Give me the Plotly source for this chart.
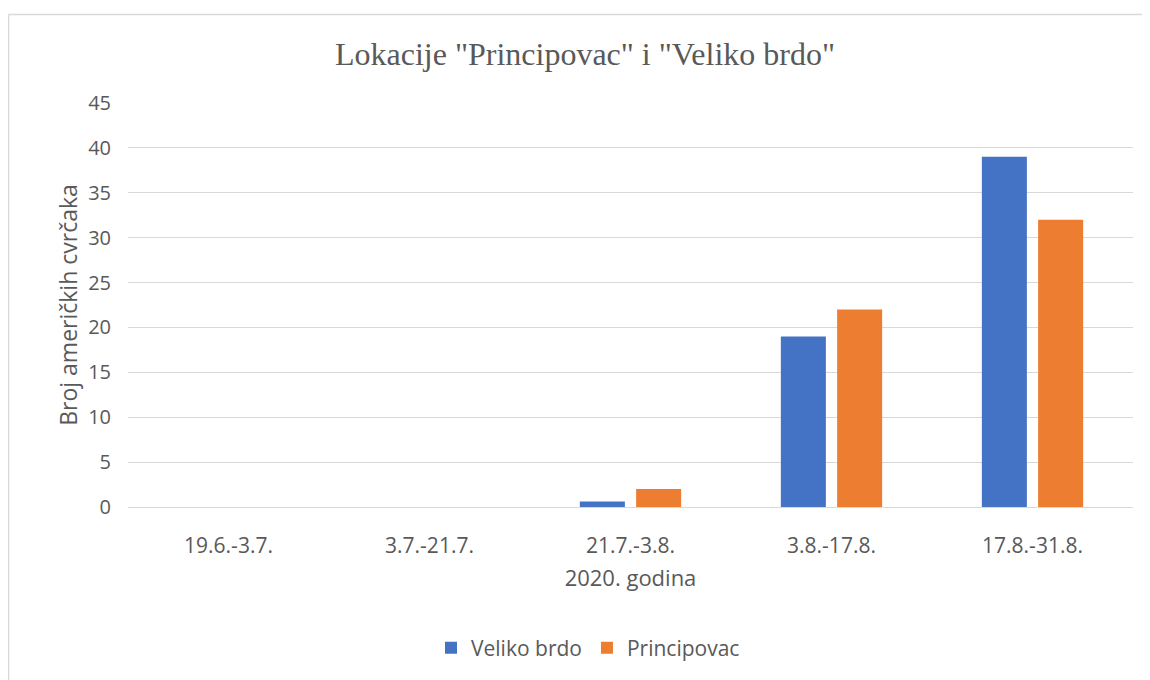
import plotly.graph_objects as go

categories = ["19.6.-3.7.", "3.7.-21.7.", "21.7.-3.8.", "3.8.-17.8.", "17.8.-31.8."]
veliko_brdo = [0, 0, 0.6, 19, 39]
principovac = [0, 0, 2, 22, 32]
y_ticks = [0, 5, 10, 15, 20, 25, 30, 35, 40, 45]

# page body has an 8px margin; figure sized to fit the 1150x680 window
OFF = 8
W, H = 1150 - OFF, 680 - OFF
L, T = 128 - OFF, 103 - OFF
PR, PB = 1133 - OFF, 507 - OFF
R, B = W - PR, H - PB
pw, ph = PR - L, PB - T

fig = go.Figure()
fig.add_trace(go.Bar(name="Veliko brdo", x=categories, y=veliko_brdo,
                     marker=dict(color="#4472C4", line=dict(width=0))))
fig.add_trace(go.Bar(name="Principovac", x=categories, y=principovac,
                     marker=dict(color="#ED7D31", line=dict(width=0))))

font_sans = "Open Sans, Lato, sans-serif"
gray = "#595959"


def px_to_paper_x(px):
    return (px - OFF - L) / pw


def px_to_paper_y(py):
    return (PB - (py - OFF)) / ph


fig.update_layout(
    width=W, height=H,
    margin=dict(l=L, r=R, t=T, b=B, pad=0),
    paper_bgcolor="white", plot_bgcolor="white",
    barmode="group", bargap=0.44, bargroupgap=0.2,
    title=dict(text='Lokacije "Principovac" i "Veliko brdo"',
               font=dict(family="Liberation Serif, Times New Roman, serif", size=32, color=gray),
               x=(585 - OFF) / W, xanchor="center", y=1 - (54 - OFF) / H, yanchor="middle"),
    font=dict(family=font_sans, color=gray, size=20),
    legend=dict(orientation="h", x=px_to_paper_x(588), xanchor="center",
                y=px_to_paper_y(648), yanchor="middle",
                font=dict(size=21, color=gray), traceorder="normal"),
    showlegend=True,
)
fig.update_yaxes(range=[0, 45], tickvals=y_ticks, showgrid=True, gridcolor="#D9D9D9", gridwidth=1,
                 zeroline=False, showline=False, ticks="", ticklabelstandoff=16,
                 tickfont=dict(size=20, color=gray),
                 title=dict(text="Broj američkih cvrčaka", font=dict(size=23, color=gray), standoff=4))
fig.update_xaxes(showline=True, linecolor="#D9D9D9", linewidth=1, ticks="", ticklabelstandoff=20,
                 tickfont=dict(size=21, color=gray),
                 title=dict(text="2020. godina", font=dict(size=22, color=gray), standoff=12))

# outer chart border (only top and left edges visible in the reference crop)
border = dict(color="#D9D9D9", width=1.5)
fig.add_shape(type="line", xref="paper", yref="paper",
              x0=px_to_paper_x(8.5), x1=px_to_paper_x(1150),
              y0=px_to_paper_y(14.5), y1=px_to_paper_y(14.5), line=border, layer="below")
fig.add_shape(type="line", xref="paper", yref="paper",
              x0=px_to_paper_x(8.5), x1=px_to_paper_x(8.5),
              y0=px_to_paper_y(14.5), y1=px_to_paper_y(680), line=border, layer="below")

fig.write_html("out.html")
